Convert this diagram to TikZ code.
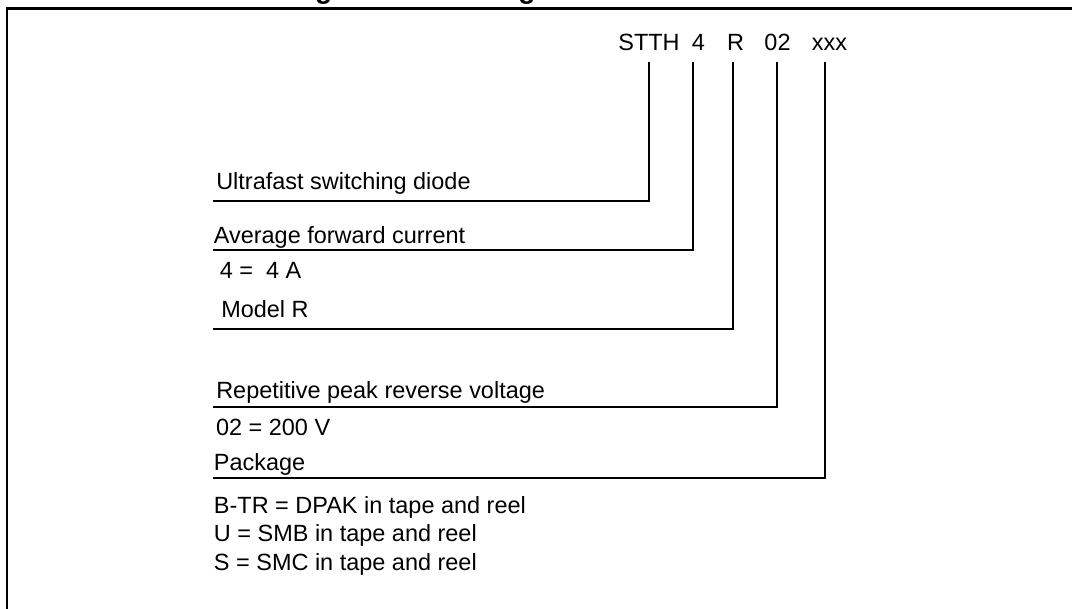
\documentclass[tikz,border=0pt]{standalone}
\usepackage{fontspec}
\setmainfont{Liberation Sans}
\usetikzlibrary{positioning}

\begin{document}
\begin{tikzpicture}[
x=0.75pt, y=-0.75pt,
every node/.style={font=\fontsize{17.6}{21}\selectfont},
codenode/.style={anchor=base, inner sep=0pt, text depth=0pt, outer ysep=9pt},
labelnode/.style={anchor=base west, inner sep=0pt},
wire/.style={line width=1.5pt},
]
\useasboundingbox (0,0) rectangle (1072,608);
\clip (0,0) rectangle (1072,608);

%Frame and title
\draw[line width=2pt] (7,620) -- (7,8.7) -- (1080,8.7);
\node[anchor=base west, inner sep=0pt, font=\bfseries\fontsize{21}{25}\selectfont] (title) at (290,-1.5) {Figure 1. Ordering information scheme};

%Nodes
\node[codenode]   (stth)     at (649,50)      {STTH};
\node[codenode]   (current)  at (698.5,50)    {4};
\node[codenode]   (model)    at (735.5,50)    {R};
\node[codenode]   (voltage)  at (777.5,50)    {02};
\node[codenode]   (package)  at (829.5,50)    {xxx};

\node[labelnode]  (diode)    at (216,189.3)   {Ultrafast switching diode};
\node[labelnode]  (avg)      at (213.6,243.3) {Average forward current};
\node[labelnode]  (avgval)   at (219.6,278.3) {4 = \ 4 A};
\node[labelnode]  (modelr)   at (221,317.3)   {Model R};
\node[labelnode]  (rep)      at (216,398.3)   {Repetitive peak reverse voltage};
\node[labelnode]  (repval)   at (215.8,435)   {02 = 200 V};
\node[labelnode]  (pkg)      at (213.7,470)   {Package};
\node[labelnode]  (btr)      at (213.7,513.3) {B-TR = DPAK in tape and reel};
\node[labelnode]  (smb)      at (213.7,541.7) {U = SMB in tape and reel};
\node[labelnode]  (smc)      at (213.7,570)   {S = SMC in tape and reel};

%Line ends
\coordinate (u1) at (213,200.7);
\coordinate (u2) at (213,250);
\coordinate (u3) at (213,329.3);
\coordinate (u4) at (213,407.3);
\coordinate (u5) at (213,478.3);

%Lines
\draw[wire] (stth.south) |- (u1);
\draw[wire] ([xshift=-3.9pt]current.south) |- (u2);
\draw[wire] ([xshift=-2.1pt]model.south) |- (u3);
\draw[wire] ([xshift=-0.6pt]voltage.south) |- (u4);
\draw[wire] ([xshift=-3.4pt]package.south) |- (u5);
\end{tikzpicture}
\end{document}
